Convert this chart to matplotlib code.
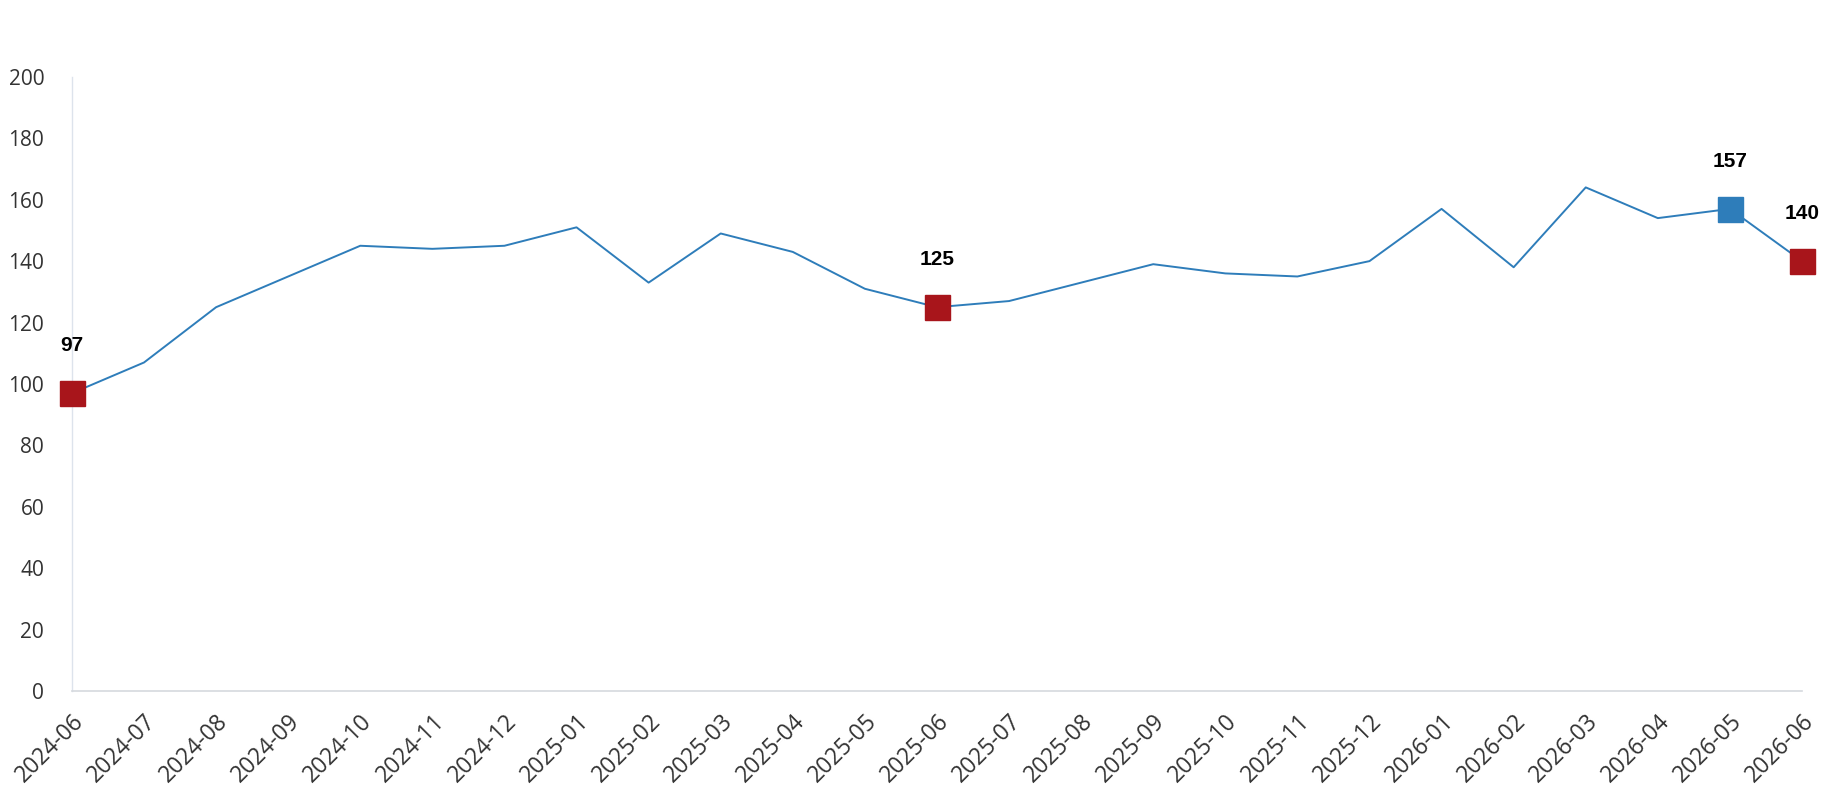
import matplotlib.pyplot as plt

months = ["2024-06", "2024-07", "2024-08", "2024-09", "2024-10", "2024-11",
          "2024-12", "2025-01", "2025-02", "2025-03", "2025-04", "2025-05",
          "2025-06", "2025-07", "2025-08", "2025-09", "2025-10", "2025-11",
          "2025-12", "2026-01", "2026-02", "2026-03", "2026-04", "2026-05",
          "2026-06"]
values = [97, 107, 125, 135, 145, 144, 145, 151, 133, 149, 143, 131,
          125, 127, 133, 139, 136, 135, 140, 157, 138, 164, 154, 157, 140]

# highlighted points: index -> colour
red_idx = [0, 12, 24]
blue_idx = [23]

LINE = "#2e7dba"
RED = "#a8151b"

fig = plt.figure(figsize=(18.3, 8), dpi=100)
ax = fig.add_axes([0.0393, 0.136, 0.9454, 0.768])

x = list(range(len(months)))
ax.plot(x, values, color=LINE, lw=1.4, zorder=2)

for i in red_idx:
    ax.plot(i, values[i], marker="s", ms=18, color=RED, mec=RED, zorder=3, clip_on=False)
for i in blue_idx:
    ax.plot(i, values[i], marker="s", ms=18, color=LINE, mec=LINE, zorder=3, clip_on=False)

for i in red_idx + blue_idx:
    ax.annotate(str(values[i]), (i, values[i]), xytext=(0, 34), textcoords="offset points",
                ha="center", va="center", fontsize=15, fontweight="bold",
                family="Liberation Sans", color="black")

ax.set_xlim(0, len(months) - 1)
ax.set_ylim(0, 200)
ax.set_yticks(range(0, 201, 20))
ax.set_xticks(x)
ax.set_xticklabels(months, rotation=45, ha="right", rotation_mode="anchor")
ax.tick_params(length=0, colors="#333333")
ax.tick_params(axis="x", labelsize=16.5, pad=13)
ax.tick_params(axis="y", labelsize=15, pad=20)
for lab in ax.get_xticklabels() + ax.get_yticklabels():
    lab.set_family("Open Sans")

for s in ["top", "right"]:
    ax.spines[s].set_visible(False)
ax.spines["left"].set_color("#dde3ec")
ax.spines["bottom"].set_color("#d5d9de")
ax.spines["left"].set_linewidth(1.0)
ax.spines["bottom"].set_linewidth(1.2)

fig.savefig("out.png", dpi=100)
